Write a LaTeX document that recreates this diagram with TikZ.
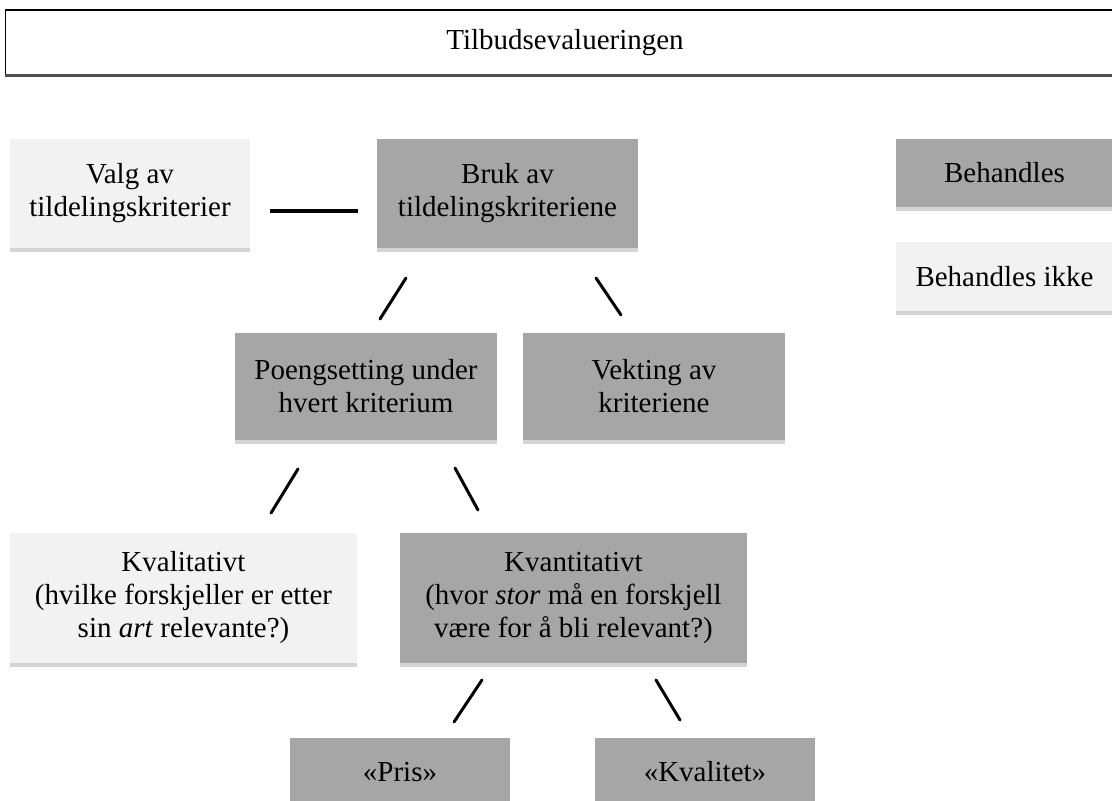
\documentclass[tikz,border=0pt]{standalone}
\usepackage{fontspec}
\setmainfont{Liberation Serif}
\usetikzlibrary{calc}

\definecolor{boxdark}{HTML}{A6A6A6}
\definecolor{boxlight}{HTML}{F2F2F2}
\definecolor{boxstrip}{HTML}{D4D4D4}
\definecolor{framebottom}{HTML}{4D4D4D}

\tikzset{
  boxtext/.style={font=\fontsize{29}{33}\selectfont, align=center, text=black,
    inner sep=0pt, outer sep=0pt},
  treated/.style={boxtext, fill=boxdark},
  untreated/.style={boxtext, fill=boxlight},
  linker/.style={line width=3pt, line cap=round, black},
  bar/.style={line width=4.5pt, black}
}

\begin{document}
\begin{tikzpicture}[x=1pt,y=-1pt]
  \useasboundingbox (0,0) rectangle (1112,801);

  % heading frame, running past the right edge
  \node[boxtext, draw=black, line width=1pt, minimum width=1120pt, minimum height=65pt]
    (top) at (565,42.5) {Tilbudsevalueringen};
  \draw[line width=2pt, black] (top.north west) -- (top.north east);
  \draw[line width=3pt, framebottom] (top.south west) -- (top.south east);

  % legend
  \node[treated, minimum width=217pt, minimum height=68pt] (beh) at (1004.5,173) {Behandles};
  \node[untreated, minimum width=217pt, minimum height=69pt] (ikke) at (1004.5,276.5) {Behandles ikke};

  % first level
  \node[untreated, minimum width=240pt, minimum height=109pt] (valg) at (130,193.5)
    {Valg av\\tildelingskriterier};
  \node[treated, minimum width=261pt, minimum height=109pt] (bruk) at (507.5,193.5)
    {Bruk av\\tildelingskriteriene};

  % second level
  \node[treated, minimum width=262pt, minimum height=107pt] (poeng) at (366,386.5)
    {Poengsetting under\\hvert kriterium};
  \node[treated, minimum width=262pt, minimum height=107pt] (vekt) at (654,386.5)
    {Vekting av\\kriteriene};

  % third level
  \node[untreated, minimum width=347pt, minimum height=130pt] (kval) at (183.5,598)
    {Kvalitativt\\(hvilke forskjeller er etter\\sin \textit{art} relevante?)};
  \node[treated, minimum width=347pt, minimum height=130pt] (kvant) at (573.5,598)
    {Kvantitativt\\(hvor \textit{stor} må en forskjell\\være for å bli relevant?)};

  % fourth level
  \node[treated, minimum width=220pt, minimum height=68pt] (pris) at (400,772) {«Pris»};
  \node[treated, minimum width=220pt, minimum height=68pt] (kvalitet) at (705,772) {«Kvalitet»};

  % light strip under each box
  \foreach \n in {beh,ikke,valg,bruk,poeng,vekt,kval,kvant}
    \fill[boxstrip] (\n.south west) rectangle ([yshift=-4pt]\n.south east);

  % connectors
  \draw[bar] ($(valg.east)+(20,17.5)$) -- ($(bruk.west)+(-19,17.5)$);
  \draw[linker] ($(bruk.south west)+(29,30)$) -- ($(poeng.north west)+(145,-14)$);
  \draw[linker] ($(bruk.south west)+(219,30)$) -- ($(vekt.north west)+(98,-18)$);
  \draw[linker] ($(poeng.south west)+(63,29)$) -- ($(kval.north west)+(261,-20)$);
  \draw[linker] ($(poeng.south west)+(220,28)$) -- ($(kvant.north west)+(78,-23)$);
  \draw[linker] ($(kvant.south west)+(82,17)$) -- ($(pris.north west)+(164,-16)$);
  \draw[linker] ($(kvant.south west)+(256,17)$) -- ($(kvalitet.north west)+(85,-18)$);
\end{tikzpicture}
\end{document}
